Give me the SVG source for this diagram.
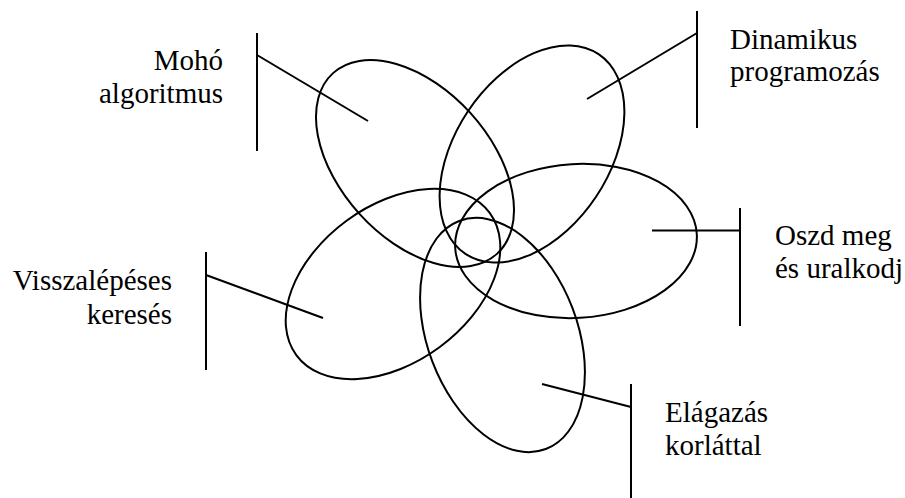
<svg xmlns="http://www.w3.org/2000/svg" width="905" height="498" viewBox="0 0 905 498">
<style>
.shape{fill:none;stroke:#000;stroke-width:2}
.conn{fill:none;stroke:#000;stroke-width:2}
.lbl{font-family:"Liberation Serif","Times New Roman","DejaVu Serif",serif;font-size:29px;fill:#000}
.r{text-anchor:end}
</style>
<rect width="905" height="498" fill="#fff"/>
<g id="node-moho">
<ellipse class="shape" cx="415" cy="163.5" rx="122" ry="75" transform="rotate(47.8 415 163.5)"/>
<text class="lbl r" x="223" y="70">Mohó</text>
<text class="lbl r" x="223" y="103">algoritmus</text>
</g>
<g id="node-dinamikus">
<ellipse class="shape" cx="532" cy="154" rx="120" ry="77" transform="rotate(-56.3 532 154)"/>
<text class="lbl" x="730" y="49">Dinamikus</text>
<text class="lbl" x="730" y="81">programozás</text>
</g>
<g id="node-oszd">
<ellipse class="shape" cx="576" cy="241" rx="121" ry="77" transform="rotate(-3.3 576 241)"/>
<text class="lbl" x="775" y="245">Oszd meg</text>
<text class="lbl" x="775" y="278">és uralkodj</text>
</g>
<g id="node-vissza">
<ellipse class="shape" cx="393" cy="284" rx="120" ry="78.5" transform="rotate(-36.3 393 284)"/>
<text class="lbl r" x="172" y="290">Visszalépéses</text>
<text class="lbl r" x="172" y="324">keresés</text>
</g>
<g id="node-elagazas">
<ellipse class="shape" cx="502.5" cy="335" rx="122" ry="75" transform="rotate(69.2 502.5 335)"/>
<text class="lbl" x="665" y="422">Elágazás</text>
<text class="lbl" x="665" y="455">korláttal</text>
</g>
<g id="connectors">
<line class="conn" x1="257" y1="33" x2="257" y2="151"/>
<line class="conn" x1="257" y1="55" x2="368" y2="121"/>
<line class="conn" x1="697" y1="11" x2="697" y2="128"/>
<line class="conn" x1="697" y1="33" x2="587" y2="99"/>
<line class="conn" x1="740" y1="208" x2="740" y2="326"/>
<line class="conn" x1="652" y1="230.5" x2="740" y2="230.5"/>
<line class="conn" x1="206" y1="252" x2="206" y2="370"/>
<line class="conn" x1="206" y1="275" x2="323" y2="318"/>
<line class="conn" x1="631" y1="384" x2="631" y2="498"/>
<line class="conn" x1="542" y1="384" x2="631" y2="407"/>
</g>
</svg>
